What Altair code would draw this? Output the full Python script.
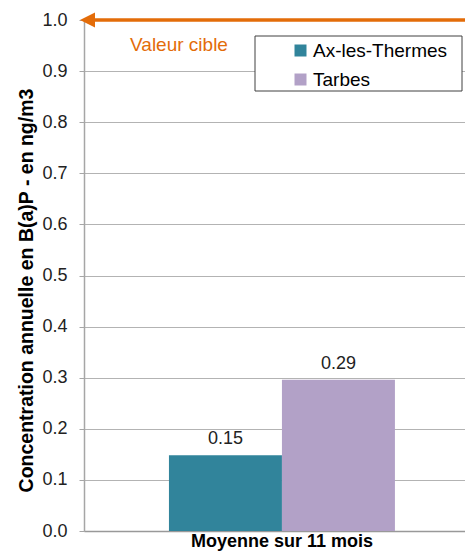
import altair as alt
import pandas as pd

category = ["Moyenne sur 11 mois"]
series = ["Ax-les-Thermes", "Tarbes"]
values = [0.148, 0.296]
value_labels = ["0.15", "0.29"]
colors = ["#31849B", "#B2A1C7"]
target = [1.0]
target_label = ["Valeur cible"]
y_ticks = [0.0, 0.1, 0.2, 0.3, 0.4, 0.5, 0.6, 0.7, 0.8, 0.9, 1.0]

df = pd.DataFrame({
    "cat": category * len(series),
    "series": series,
    "value": values,
    "label": value_labels,
})
tdf = pd.DataFrame({"target": target, "text": target_label})

FONT = "Liberation Sans"
ORANGE = "#E36C09"
W, H = 381, 511

x_enc = alt.X("cat:N", title=None,
              scale=alt.Scale(paddingInner=0, paddingOuter=0.343, align=0.548),
              axis=alt.Axis(labelAngle=0, labelFont=FONT, labelFontSize=18,
                            labelFontWeight="bold", labelColor="#000000",
                            labelLimit=0, ticks=False, labelPadding=1,
                            domainColor="#999999", domainWidth=1.5))
xo_enc = alt.XOffset("series:N", sort=series,
                     scale=alt.Scale(paddingInner=0, paddingOuter=0))
y_enc = alt.Y("value:Q",
              scale=alt.Scale(domain=[0, 1], nice=False, zero=True),
              axis=alt.Axis(values=y_ticks, format=".1f", labelFont=FONT,
                            labelFontSize=18, labelColor="#222222",
                            labelPadding=12, tickSize=5, tickColor="#a6a6a6",
                            gridColor="#b3b3b3", gridWidth=1.2,
                            domainColor="#a6a6a6", domainWidth=1.5,
                            title="Concentration annuelle en B(a)P  - en ng/m3",
                            titleFont=FONT, titleFontSize=19.5,
                            titleFontWeight="bold", titleColor="#000000",
                            titleX=-52, titleY=270, titleAngle=270,
                            titleBaseline="alphabetic", titleAlign="center"))

base = alt.Chart(df)

bars = base.mark_bar(stroke=None).encode(
    x=x_enc, xOffset=xo_enc, y=y_enc,
    color=alt.Color("series:N", scale=alt.Scale(domain=series, range=colors),
                    legend=alt.Legend(title=None, orient="none",
                                      legendX=207, legendY=21,
                                      symbolType="square", symbolSize=144,
                                      symbolStrokeWidth=0, symbolOffset=0,
                                      labelFont=FONT, labelFontSize=19,
                                      labelColor="#000000", labelOffset=3,
                                      rowPadding=9, padding=0)),
)

texts = base.mark_text(font=FONT, fontSize=18, color="#222222", dy=-16).encode(
    x=x_enc, xOffset=xo_enc, y=y_enc, text="label:N",
)

tchart = alt.Chart(tdf)
rule = tchart.mark_rule(color=ORANGE, strokeWidth=3.5).encode(
    y=alt.Y("target:Q"),
)
arrow = tchart.mark_point(shape="M-1,0L1,-1L1,1Z", filled=True, opacity=1,
                          color=ORANGE, size=225, clip=False).encode(
    x=alt.value(3.5), y=alt.Y("target:Q"),
)
tlabel = tchart.mark_text(font=FONT, fontSize=19, color=ORANGE).encode(
    x=alt.value(95), y=alt.value(25), text="text:N",
)
box = tchart.mark_rect(fill="white", stroke="#404040", strokeWidth=1).encode(
    x=alt.value(171), x2=alt.value(378), y=alt.value(16), y2=alt.value(71),
)

chart = alt.layer(bars, texts, box, rule, arrow, tlabel).properties(
    width=W, height=H,
    autosize=alt.AutoSizeParams(type="none"),
    padding={"left": 76, "top": 12, "right": 0, "bottom": 21},
).configure_view(stroke=None).configure(background="white")

chart.save("out.html", embed_options={"renderer": "svg", "actions": False})
